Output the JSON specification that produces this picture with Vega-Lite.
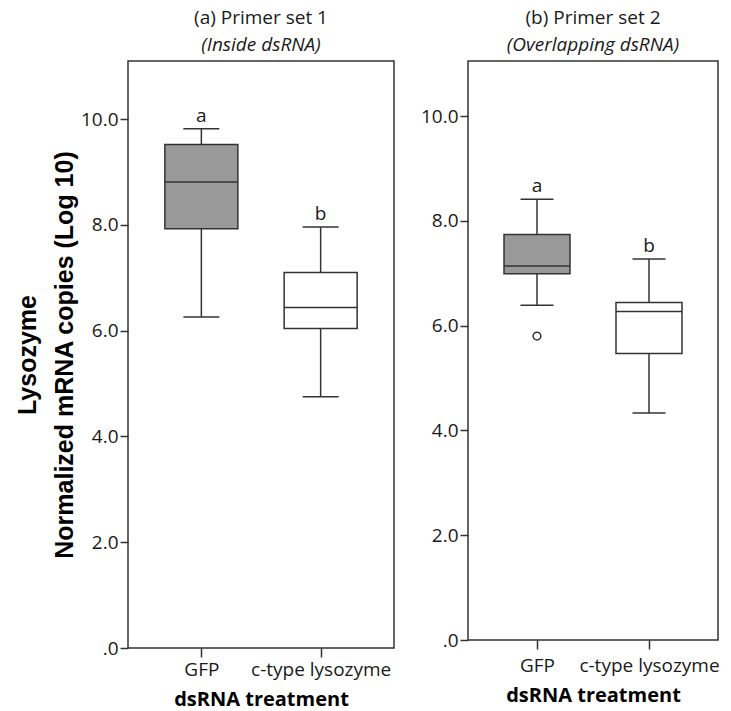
{
  "$schema": "https://vega.github.io/schema/vega-lite/v6.json",
  "background": "white",
  "padding": {"left": 14, "top": 8, "right": 5, "bottom": 0},
  "spacing": 24,
  "datasets": {
    "stats": [
      {"panel": "a", "group": "GFP", "lo": 6.26, "q1": 7.93, "median": 8.81, "q3": 9.52, "hi": 9.82, "letter": "a"},
      {"panel": "a", "group": "c-type lysozyme", "lo": 4.75, "q1": 6.04, "median": 6.44, "q3": 7.10, "hi": 7.96, "letter": "b"},
      {"panel": "b", "group": "GFP", "lo": 6.39, "q1": 6.99, "median": 7.14, "q3": 7.74, "hi": 8.41, "letter": "a"},
      {"panel": "b", "group": "c-type lysozyme", "lo": 4.33, "q1": 5.47, "median": 6.27, "q3": 6.44, "hi": 7.27, "letter": "b"}
    ],
    "outliers": [
      {"panel": "b", "group": "GFP", "value": 5.80}
    ]
  },
  "config": {
    "font": "Open Sans",
    "view": {"stroke": "#333333", "strokeWidth": 1.5},
    "axis": {
      "domain": false,
      "grid": false,
      "tickColor": "#333333",
      "tickWidth": 1.5,
      "tickSize": 8,
      "labelFont": "Open Sans",
      "labelFontSize": 19,
      "labelColor": "#1a1a1a",
      "titleColor": "#000000"
    },
    "title": {
      "font": "Open Sans",
      "fontSize": 19,
      "fontWeight": "normal",
      "color": "#1a1a1a",
      "subtitleFont": "Open Sans",
      "subtitleFontSize": 19,
      "subtitleFontStyle": "italic",
      "subtitleColor": "#1a1a1a",
      "subtitlePadding": 8,
      "offset": 6,
      "anchor": "middle"
    }
  },
  "hconcat": [
    {
      "width": 266,
      "height": 587,
      "title": {"text": "(a) Primer set 1", "subtitle": "(Inside dsRNA)"},
      "encoding": {
        "x": {
          "field": "group", "type": "nominal",
          "sort": ["GFP", "c-type lysozyme"],
          "scale": {"type": "point", "padding": 0.615},
          "axis": {"labelAngle": 0, "tickSize": 9, "labelPadding": 3, "title": "dsRNA treatment", "titleFont": "Open Sans", "titleFontWeight": "bold", "titleFontSize": 20, "titlePadding": 10}
        }
      },
      "layer": [
        {
          "data": {"name": "stats"},
          "transform": [{"filter": "datum.panel === 'a'"}],
          "mark": {"type": "rule", "color": "#333333", "strokeWidth": 1.5},
          "encoding": {
            "y": {"field": "lo", "type": "quantitative",
              "scale": {"domain": [0, 11.1], "nice": false, "zero": true},
              "axis": {
                "values": [0, 2, 4, 6, 8, 10],
                "labelExpr": "datum.value === 0 ? '.0' : format(datum.value, '.1f')",
                "labelPadding": 2,
                "title": ["Lysozyme", "Normalized mRNA copies (Log 10)"],
                "titleFont": "Liberation Sans",
                "titleFontWeight": "bold",
                "titleFontSize": 25,
                "titleLineHeight": 37,
                "titlePadding": 3
              }
            },
            "y2": {"field": "hi"}
          }
        },
        {
          "data": {"name": "stats"},
          "transform": [{"filter": "datum.panel === 'a'"}],
          "mark": {"type": "bar", "size": 73, "stroke": "#333333", "strokeWidth": 1.5},
          "encoding": {
            "y": {"field": "q1", "type": "quantitative"},
            "y2": {"field": "q3"},
            "fill": {"field": "group", "type": "nominal", "scale": {"domain": ["GFP", "c-type lysozyme"], "range": ["#999999", "#ffffff"]}, "legend": null}
          }
        },
        {
          "data": {"name": "stats"},
          "transform": [{"filter": "datum.panel === 'a'"}],
          "mark": {"type": "tick", "size": 73, "thickness": 1.5, "color": "#333333", "opacity": 1},
          "encoding": {"y": {"field": "median", "type": "quantitative"}}
        },
        {
          "data": {"name": "stats"},
          "transform": [{"filter": "datum.panel === 'a'"}],
          "mark": {"type": "tick", "size": 36, "thickness": 1.5, "color": "#333333", "opacity": 1},
          "encoding": {"y": {"field": "hi", "type": "quantitative"}}
        },
        {
          "data": {"name": "stats"},
          "transform": [{"filter": "datum.panel === 'a'"}],
          "mark": {"type": "tick", "size": 36, "thickness": 1.5, "color": "#333333", "opacity": 1},
          "encoding": {"y": {"field": "lo", "type": "quantitative"}}
        },
        {
          "data": {"name": "stats"},
          "transform": [{"filter": "datum.panel === 'a'"}],
          "mark": {"type": "text", "baseline": "bottom", "dy": -3, "fontSize": 19, "font": "Open Sans", "color": "#1a1a1a"},
          "encoding": {"y": {"field": "hi", "type": "quantitative"}, "text": {"field": "letter"}}
        }
      ]
    },
    {
      "width": 250,
      "height": 579,
      "title": {"text": "(b) Primer set 2", "subtitle": "(Overlapping dsRNA)"},
      "encoding": {
        "x": {
          "field": "group", "type": "nominal",
          "sort": ["GFP", "c-type lysozyme"],
          "scale": {"type": "point", "padding": 0.616},
          "axis": {"labelAngle": 0, "tickSize": 9, "labelPadding": 7, "title": "dsRNA treatment", "titleFont": "Open Sans", "titleFontWeight": "bold", "titleFontSize": 20, "titlePadding": 10}
        }
      },
      "layer": [
        {
          "data": {"name": "stats"},
          "transform": [{"filter": "datum.panel === 'b'"}],
          "mark": {"type": "rule", "color": "#333333", "strokeWidth": 1.5},
          "encoding": {
            "y": {"field": "lo", "type": "quantitative",
              "scale": {"domain": [0, 11.05], "nice": false, "zero": true},
              "axis": {
                "values": [0, 2, 4, 6, 8, 10],
                "labelExpr": "datum.value === 0 ? '.0' : format(datum.value, '.1f')",
                "labelPadding": 2,
                "title": null
              }
            },
            "y2": {"field": "hi"}
          }
        },
        {
          "data": {"name": "stats"},
          "transform": [{"filter": "datum.panel === 'b'"}],
          "mark": {"type": "bar", "size": 66, "stroke": "#333333", "strokeWidth": 1.5},
          "encoding": {
            "y": {"field": "q1", "type": "quantitative"},
            "y2": {"field": "q3"},
            "fill": {"field": "group", "type": "nominal", "scale": {"domain": ["GFP", "c-type lysozyme"], "range": ["#999999", "#ffffff"]}, "legend": null}
          }
        },
        {
          "data": {"name": "stats"},
          "transform": [{"filter": "datum.panel === 'b'"}],
          "mark": {"type": "tick", "size": 66, "thickness": 1.5, "color": "#333333", "opacity": 1},
          "encoding": {"y": {"field": "median", "type": "quantitative"}}
        },
        {
          "data": {"name": "stats"},
          "transform": [{"filter": "datum.panel === 'b'"}],
          "mark": {"type": "tick", "size": 33, "thickness": 1.5, "color": "#333333", "opacity": 1},
          "encoding": {"y": {"field": "hi", "type": "quantitative"}}
        },
        {
          "data": {"name": "stats"},
          "transform": [{"filter": "datum.panel === 'b'"}],
          "mark": {"type": "tick", "size": 33, "thickness": 1.5, "color": "#333333", "opacity": 1},
          "encoding": {"y": {"field": "lo", "type": "quantitative"}}
        },
        {
          "data": {"name": "outliers"},
          "transform": [{"filter": "datum.panel === 'b'"}],
          "mark": {"type": "point", "shape": "circle", "filled": false, "size": 60, "stroke": "#333333", "strokeWidth": 1.5, "opacity": 1},
          "encoding": {"y": {"field": "value", "type": "quantitative"}}
        },
        {
          "data": {"name": "stats"},
          "transform": [{"filter": "datum.panel === 'b'"}],
          "mark": {"type": "text", "baseline": "bottom", "dy": -3, "fontSize": 19, "font": "Open Sans", "color": "#1a1a1a"},
          "encoding": {"y": {"field": "hi", "type": "quantitative"}, "text": {"field": "letter"}}
        }
      ]
    }
  ],
  "resolve": {"scale": {"y": "independent", "x": "independent"}}
}
